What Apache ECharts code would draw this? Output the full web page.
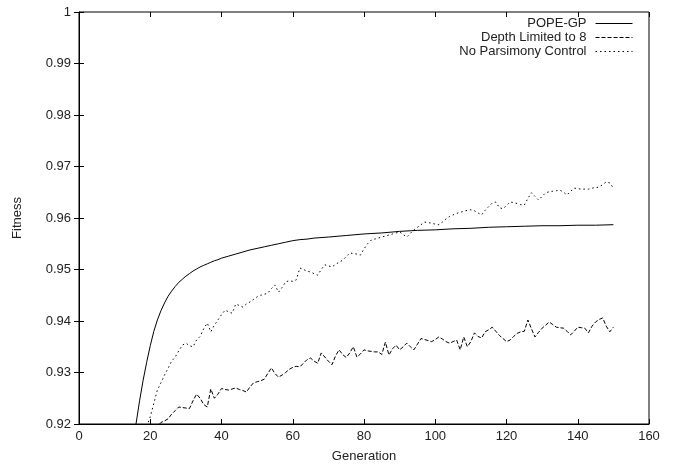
<!DOCTYPE html>
<html>
<head>
<meta charset="utf-8">
<script src="https://cdn.jsdelivr.net/npm/echarts@6/dist/echarts.min.js"></script>
<style>html,body{margin:0;padding:0;background:#fff}#c{width:676px;height:468px}</style>
</head>
<body>
<div id="c"></div>
<script>
var xTicks = [0, 20, 40, 60, 80, 100, 120, 140, 160];
var yTicks = [0.92, 0.93, 0.94, 0.95, 0.96, 0.97, 0.98, 0.99, 1];
var seriesNames = ['POPE-GP', 'Depth Limited to 8', 'No Parsimony Control'];

var popeGens = [14,15,16,17,18,19,20,21,22,23,24,25,26,27,28,29,30,31,32,33,34,35,36,37,38,39,40,42,44,46,48,50,52,54,56,58,60,62,64,66,70,75,80,85,90,95,100,105,110,115,120,125,130,135,140,145,150];
var popeVals = [0.912,0.916,0.920,0.9245,0.9285,0.932,0.9352,0.938,0.9402,0.942,0.9435,0.9448,0.9458,0.9467,0.9475,0.9481,0.9487,0.9492,0.9497,0.9501,0.9505,0.9508,0.9511,0.9514,0.9517,0.9519,0.9522,0.9526,0.9530,0.9534,0.9538,0.9541,0.9544,0.9547,0.9550,0.9553,0.9556,0.9558,0.9559,0.9561,0.9563,0.9566,0.9569,0.9571,0.9574,0.9576,0.9577,0.9579,0.9580,0.9582,0.9583,0.9584,0.9585,0.9585,0.9586,0.9586,0.9587];

var depthStart = 21;
var depthVals = [0.918,0.9195,0.9203,0.9206,0.9210,0.9219,0.9226,0.9233,0.9232,0.9231,
0.9230,0.9245,0.9258,0.9250,0.9238,0.9233,0.9268,0.9250,0.9258,0.9269,
0.9267,0.9266,0.9268,0.9270,0.9267,0.9265,0.9262,0.9272,0.9280,0.9282,
0.9284,0.9287,0.9298,0.9309,0.9298,0.9291,0.9295,0.9300,0.9306,0.9310,
0.9312,0.9311,0.9318,0.9325,0.9328,0.9322,0.9318,0.9338,0.9330,0.9322,
0.9315,0.9332,0.9344,0.9335,0.9329,0.9338,0.9350,0.9330,0.9336,0.9344,
0.9342,0.9341,0.9340,0.9340,0.9335,0.9359,0.9334,0.9346,0.9353,0.9344,
0.9350,0.9357,0.9350,0.9344,0.9355,0.9366,0.9364,0.9362,0.9360,0.9364,
0.9369,0.9365,0.9360,0.9357,0.9360,0.9363,0.9344,0.9369,0.9350,0.9360,
0.9377,0.9370,0.9367,0.9379,0.9383,0.9388,0.9380,0.9372,0.9366,0.9360,
0.9363,0.9370,0.9376,0.9379,0.9380,0.9402,0.9385,0.9369,0.9378,0.9386,
0.9392,0.9398,0.9393,0.9388,0.9387,0.9386,0.9380,0.9373,0.9380,0.9388,
0.9387,0.9386,0.9377,0.9390,0.9398,0.9403,0.9406,0.9390,0.9379,0.9388];

var noParsStart = 18;
var noParsVals = [0.917,0.9195,0.9214,0.924,0.9266,0.928,0.9295,0.9308,0.9322,0.933,
0.9342,0.9353,0.9357,0.9352,0.9350,0.9363,0.9370,0.9385,0.9396,0.9379,
0.9392,0.9402,0.9412,0.9421,0.9418,0.9415,0.9433,0.9430,0.9427,0.9433,
0.9437,0.9442,0.9447,0.9450,0.9452,0.9454,0.9463,0.9470,0.9456,0.9465,
0.9476,0.9478,0.9477,0.9480,0.9503,0.9500,0.9497,0.9495,0.9492,0.9489,
0.9500,0.9509,0.9507,0.9505,0.9510,0.9514,0.9518,0.9525,0.9532,0.9531,
0.9530,0.9528,0.9540,0.9550,0.9557,0.9559,0.9561,0.9563,0.9565,0.9567,
0.9569,0.9571,0.9573,0.9568,0.9563,0.9570,0.9577,0.9582,0.9587,0.9592,
0.9591,0.9590,0.9588,0.9587,0.9592,0.9598,0.9603,0.9606,0.9609,0.9611,
0.9613,0.9615,0.9616,0.9614,0.9610,0.9606,0.9615,0.9622,0.9629,0.9631,
0.9620,0.9618,0.9624,0.9631,0.9630,0.9628,0.9626,0.9625,0.9638,0.9649,
0.9642,0.9635,0.9642,0.9649,0.9651,0.9652,0.9653,0.9654,0.9650,0.9645,
0.9652,0.9658,0.9657,0.9656,0.9656,0.9656,0.9658,0.9659,0.9660,0.9665,
0.9670,0.9668,0.9658];

function pairsFromGens(gens, vals) {
  return vals.map(function (v, i) { return [gens[i], v]; });
}
function pairsFromStart(start, vals) {
  return vals.map(function (v, i) { return [start + i, v]; });
}

var FONT = '"Liberation Sans", Arial, sans-serif';
var FS = 13;
var TXT = '#222';
var chart = echarts.init(document.getElementById('c'), null, {renderer: 'canvas'});

function legendFor(name, top) {
  return {
    data: [name], right: 43, top: top, orient: 'vertical', align: 'right',
    itemWidth: 37, itemHeight: 10, itemGap: 0, padding: 0, selectedMode: false,
    itemStyle: {opacity: 0, borderWidth: 0},
    lineStyle: {width: 1},
    textStyle: {fontFamily: FONT, fontSize: FS, color: TXT, padding: [0, 4, 0, 0]}
  };
}

var tickStyle = {show: true, inside: true, length: 5, lineStyle: {color: '#000', width: 1}};

chart.setOption({
  animation: false,
  backgroundColor: '#fff',
  textStyle: {fontFamily: FONT},
  grid: {left: 79, right: 27, top: 12, bottom: 44, show: true, borderColor: '#000', borderWidth: 1, containLabel: false},
  legend: [legendFor(seriesNames[0], 17), legendFor(seriesNames[1], 31), legendFor(seriesNames[2], 45)],
  xAxis: [{
    type: 'value', min: xTicks[0], max: xTicks[xTicks.length - 1], interval: 20,
    name: 'Generation', nameLocation: 'middle', nameGap: 26,
    nameTextStyle: {fontFamily: FONT, fontSize: FS, color: TXT},
    axisLine: {show: true, onZero: false, lineStyle: {color: '#000', width: 1}},
    axisTick: tickStyle, splitLine: {show: false},
    axisLabel: {fontFamily: FONT, fontSize: FS, color: TXT, margin: 6}
  }, {
    type: 'value', position: 'top', min: xTicks[0], max: xTicks[xTicks.length - 1], interval: 20,
    axisLine: {show: false}, axisTick: tickStyle, axisLabel: {show: false}, splitLine: {show: false}
  }],
  yAxis: [{
    type: 'value', min: yTicks[0], max: yTicks[yTicks.length - 1], interval: 0.01,
    name: 'Fitness', nameLocation: 'middle', nameGap: 55, nameRotate: 90,
    nameTextStyle: {fontFamily: FONT, fontSize: FS, color: TXT},
    axisLine: {show: true, onZero: false, lineStyle: {color: '#000', width: 1}},
    axisTick: tickStyle, splitLine: {show: false},
    axisLabel: {fontFamily: FONT, fontSize: FS, color: TXT, margin: 8,
      formatter: function (v) { return String(Math.round(v * 100) / 100); }}
  }, {
    type: 'value', position: 'right', min: yTicks[0], max: yTicks[yTicks.length - 1], interval: 0.01,
    axisLine: {show: false}, axisTick: tickStyle, axisLabel: {show: false}, splitLine: {show: false}
  }],
  series: [{
    name: seriesNames[0], type: 'line', symbol: 'none', clip: true,
    data: pairsFromGens(popeGens, popeVals),
    lineStyle: {color: '#000', width: 1, type: 'solid'}, itemStyle: {color: '#000'}
  }, {
    name: seriesNames[1], type: 'line', symbol: 'none', clip: true,
    data: pairsFromStart(depthStart, depthVals),
    lineStyle: {color: '#000', width: 1, type: [4, 2]}, itemStyle: {color: '#000'}
  }, {
    name: seriesNames[2], type: 'line', symbol: 'none', clip: true,
    data: pairsFromStart(noParsStart, noParsVals),
    lineStyle: {color: '#000', width: 1, type: [1.5, 3]}, itemStyle: {color: '#000'}
  }]
});
</script>
</body>
</html>
